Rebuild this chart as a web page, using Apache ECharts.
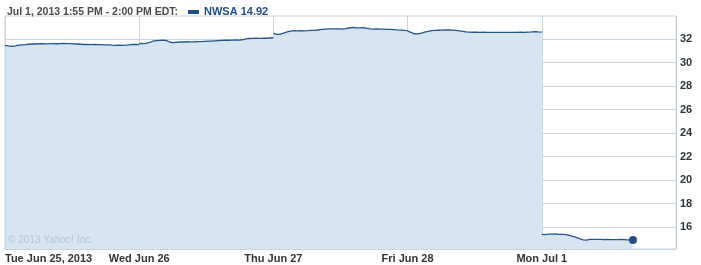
<!DOCTYPE html>
<html>
<head>
<meta charset="utf-8">
<script src="https://cdn.jsdelivr.net/npm/echarts@6/dist/echarts.min.js"></script>
<style>
  html, body { margin: 0; padding: 0; background: #fff; }
  #chart { width: 701px; height: 265px; }
</style>
</head>
<body>
<div id="chart"></div>
<script>
// NWSA intraday, 5 sessions, values every 10 minutes from 9:30
var dayLabels = ['Tue Jun 25, 2013', 'Wed Jun 26', 'Thu Jun 27', 'Fri Jun 28', 'Mon Jul 1'];
var yTicks = [16, 18, 20, 22, 24, 26, 28, 30, 32];

var tue = [31.46, 31.41, 31.38, 31.42, 31.47, 31.50, 31.52, 31.55, 31.58, 31.57,
  31.59, 31.60, 31.58, 31.60, 31.61, 31.59, 31.60, 31.62, 31.60, 31.61,
  31.58, 31.57, 31.55, 31.53, 31.54, 31.52, 31.53, 31.51, 31.52, 31.50,
  31.49, 31.47, 31.46, 31.47, 31.46, 31.48, 31.50, 31.54, 31.53, 31.52];
var wed = [31.62, 31.60, 31.63, 31.70, 31.82, 31.86, 31.88, 31.90, 31.86, 31.72,
  31.68, 31.72, 31.75, 31.74, 31.76, 31.75, 31.76, 31.78, 31.77, 31.80,
  31.82, 31.81, 31.84, 31.86, 31.88, 31.90, 31.89, 31.90, 31.91, 31.90,
  31.93, 32.00, 32.04, 32.05, 32.06, 32.05, 32.07, 32.06, 32.08, 32.10];
var thu = [32.48, 32.38, 32.40, 32.50, 32.60, 32.66, 32.70, 32.68, 32.70, 32.69,
  32.70, 32.72, 32.73, 32.76, 32.82, 32.84, 32.85, 32.86, 32.85, 32.86,
  32.84, 32.88, 32.93, 32.98, 32.95, 32.94, 32.96, 32.92, 32.86, 32.84,
  32.85, 32.83, 32.84, 32.82, 32.81, 32.80, 32.77, 32.75, 32.72, 32.70];
var fri = [32.66, 32.55, 32.44, 32.43, 32.50, 32.58, 32.65, 32.70, 32.73, 32.74,
  32.75, 32.76, 32.77, 32.75, 32.72, 32.68, 32.64, 32.60, 32.58, 32.57,
  32.57, 32.56, 32.57, 32.56, 32.55, 32.55, 32.56, 32.55, 32.56, 32.55,
  32.56, 32.55, 32.56, 32.57, 32.56, 32.58, 32.60, 32.63, 32.60, 32.58];
var mon = [15.40, 15.38, 15.41, 15.42, 15.43, 15.40, 15.39, 15.37, 15.30, 15.22,
  15.14, 15.04, 14.93, 14.90, 14.97, 14.96, 14.97, 14.96, 14.95, 14.96,
  14.95, 14.94, 14.95, 14.96, 14.94, 14.92, 14.90];
var lastMinute = 265;
var lastPrice = 14.92;

var sessionMinutes = 390;
var step = 10;
var days = [tue, wed, thu, fri, mon];

// one list of points, with a break (null) between sessions
var points = [];
days.forEach(function (vals, d) {
  if (d > 0) points.push([d, null]);
  vals.forEach(function (v, i) {
    points.push([d + i * step / sessionMinutes, v]);
  });
});
var lastPoint = [4 + lastMinute / sessionMinutes, lastPrice];
points.push(lastPoint);

var chart = echarts.init(document.getElementById('chart'));
var gridColor = '#c8d5de';
var labelFont = 'Liberation Sans, Arial, sans-serif';

chart.setOption({
  animation: false,
  title: {
    left: 7,
    top: 3,
    padding: 0,
    text: '{a|Jul 1, 2013 1:55 PM - 2:00 PM EDT:}  {m|} {b|NWSA ' + lastPrice.toFixed(2) + '}',
    textStyle: {
      rich: {
        a: { fontSize: 10.5, color: '#4a4a4a', fontFamily: labelFont, fontWeight: 'bold' },
        m: { backgroundColor: '#1f4e87', width: 11, height: 4 },
        b: { fontSize: 11, color: '#1f4e87', fontFamily: labelFont, fontWeight: 'bold' }
      }
    }
  },
  graphic: [{
    type: 'text',
    left: 8,
    top: 235,
    z: 100,
    style: { text: '\u00a9 2013 Yahoo! Inc.', fill: '#b5c3cd', font: '10px Liberation Sans, Arial, sans-serif' }
  }],
  grid: {
    left: 5, right: 25, top: 16, bottom: 16,
    show: true, borderColor: gridColor, borderWidth: 1
  },
  xAxis: {
    type: 'value',
    min: 0, max: 5, interval: 1,
    z: 3,
    axisLine: { show: true, lineStyle: { color: gridColor } },
    axisTick: { show: false },
    splitLine: { show: true, lineStyle: { color: gridColor } },
    axisLabel: {
      margin: 4,
      alignMinLabel: 'left',
      showMaxLabel: false,
      color: '#333', fontSize: 11, fontWeight: 'bold', fontFamily: labelFont,
      formatter: function (v) { return dayLabels[Math.round(v)] || ''; }
    }
  },
  yAxis: {
    type: 'value',
    position: 'right',
    min: 14.15, max: 33.95,
    z: 3,
    axisLine: { show: true, lineStyle: { color: gridColor } },
    axisTick: { show: false, customValues: yTicks },
    splitLine: { show: true, lineStyle: { color: gridColor } },
    axisLabel: {
      customValues: yTicks,
      margin: 4,
      color: '#333', fontSize: 11, fontWeight: 'bold', fontFamily: labelFont
    }
  },
  series: [{
    type: 'line',
    data: points,
    showSymbol: false,
    connectNulls: false,
    lineStyle: { color: '#22568f', width: 1.3 },
    areaStyle: { color: '#d6e5f0', opacity: 1 },
    markPoint: {
      symbol: 'circle', symbolSize: 8,
      itemStyle: { color: '#1f4e87' },
      label: { show: false },
      data: [{ coord: lastPoint }]
    }
  }]
});
</script>
</body>
</html>
